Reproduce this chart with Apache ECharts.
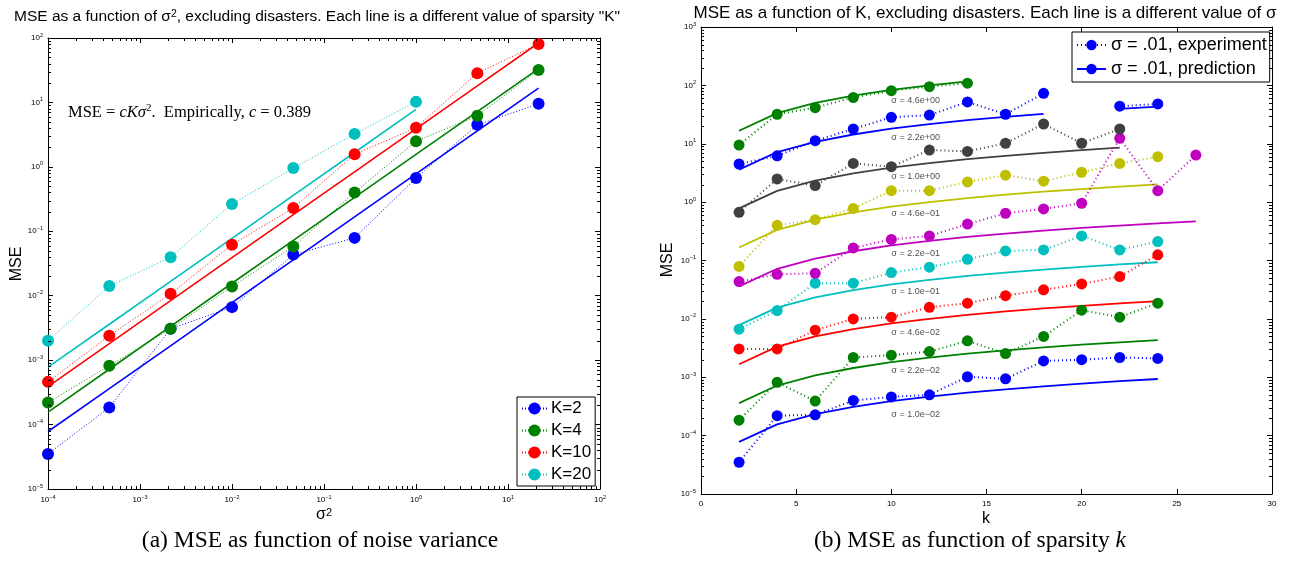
<!DOCTYPE html>
<html>
<head>
<meta charset="utf-8">
<script src="https://cdn.jsdelivr.net/npm/echarts@6/dist/echarts.min.js"></script>
<style>
html,body{margin:0;padding:0;background:#fff;}
#chart{width:1290px;height:561px;}
</style>
</head>
<body>
<div id="chart"></div>
<script>
// ---------------- DATA ----------------
const kValues = [2, 4, 6, 8, 10, 12, 14, 16, 18, 20, 22, 24, 26];
const sigmaValues = [0.01, 0.0215, 0.0464, 0.1, 0.215, 0.464, 1.0, 2.15, 4.64];
const sigmaSquared = [1e-4, 4.64e-4, 2.15e-3, 1e-2, 4.64e-2, 0.215, 1, 4.64, 21.5];
const sigmaLabels = ['σ = 1.0e−02', 'σ = 2.2e−02', 'σ = 4.6e−02', 'σ = 1.0e−01', 'σ = 2.2e−01',
                     'σ = 4.6e−01', 'σ = 1.0e+00', 'σ = 2.2e+00', 'σ = 4.6e+00'];
const sigmaLabelY = [2.27e-4, 1.29e-3, 5.75e-3, 0.029, 0.13, 0.65, 2.8, 12.6, 56];
const sigmaLabelK = 10;

// experiment MSE, one array per sigma, indexed by kValues
const exp_s0010 = [3.5e-5, 2.2e-4, 2.27e-4, 4.0e-4, 4.6e-4, 5.0e-4, 1.02e-3, 9.4e-4, 1.9e-3, 2.0e-3, 2.18e-3, 2.1e-3, null];
const exp_s0022 = [1.84e-4, 8.2e-4, 3.9e-4, 2.18e-3, 2.39e-3, 2.75e-3, 4.2e-3, 2.55e-3, 5.0e-3, 0.0141, 0.0107, 0.0186, null];
const exp_s0046 = [3.06e-3, 3.06e-3, 6.4e-3, 0.0100, 0.0107, 0.0158, 0.0186, 0.025, 0.0314, 0.0397, 0.053, 0.125, null];
const exp_s0100 = [6.65e-3, 0.0139, 0.0408, 0.0408, 0.062, 0.077, 0.105, 0.146, 0.152, 0.264, 0.152, 0.211, null];
const exp_s0215 = [0.0435, 0.058, 0.0605, 0.164, 0.23, 0.264, 0.42, 0.645, 0.766, 0.957, 12.4, 1.57, 6.4];
const exp_s0464 = [0.079, 0.40, 0.50, 0.78, 1.57, 1.57, 2.22, 2.9, 2.28, 3.25, 4.6, 6.0, null];
const exp_s1000 = [0.67, 2.5, 1.92, 4.6, 4.05, 7.8, 7.4, 10.2, 21.8, 10.2, 17.9, null, null];
const exp_s2150 = [4.5, 6.2, 11.3, 17.9, 28.4, 31, 52, 32, 73, null, 44, 48, null];
const exp_s4640 = [9.5, 32, 41.5, 62, 81, 95, 109, null, null, null, null, null, null];

// predicted MSE, one array per sigma, indexed by kValues
const pred_s0010 = [7.8e-5, 1.56e-4, 2.33e-4, 3.11e-4, 3.89e-4, 4.67e-4, 5.45e-4, 6.22e-4, 7.0e-4, 7.78e-4, 8.56e-4, 9.34e-4, null];
const pred_s0022 = [3.61e-4, 7.22e-4, 1.08e-3, 1.44e-3, 1.81e-3, 2.17e-3, 2.53e-3, 2.89e-3, 3.25e-3, 3.61e-3, 3.97e-3, 4.33e-3, null];
const pred_s0046 = [1.67e-3, 3.35e-3, 5.02e-3, 6.7e-3, 8.37e-3, 1.0e-2, 1.17e-2, 1.34e-2, 1.51e-2, 1.67e-2, 1.84e-2, 2.01e-2, null];
const pred_s0100 = [7.8e-3, 1.56e-2, 2.33e-2, 3.11e-2, 3.89e-2, 4.67e-2, 5.45e-2, 6.22e-2, 7.0e-2, 7.78e-2, 8.56e-2, 9.34e-2, null];
const pred_s0215 = [0.0361, 0.0722, 0.108, 0.144, 0.181, 0.217, 0.253, 0.289, 0.325, 0.361, 0.397, 0.433, 0.469];
const pred_s0464 = [0.167, 0.335, 0.502, 0.67, 0.837, 1.0, 1.17, 1.34, 1.51, 1.67, 1.84, 2.01, null];
const pred_s1000 = [0.78, 1.56, 2.33, 3.11, 3.89, 4.67, 5.45, 6.22, 7.0, 7.78, 8.56, null, null];
const pred_s2150 = [3.61, 7.22, 10.8, 14.4, 18.1, 21.7, 25.3, 28.9, 32.5, null, 39.7, 43.3, null];
const pred_s4640 = [16.7, 33.5, 50.2, 67, 83.7, 100, 117, null, null, null, null, null, null];

const leftK = [2, 4, 10, 20];
const leftNames = ['K=2', 'K=4', 'K=10', 'K=20'];
const rightLegendNames = ['σ = .01, experiment', 'σ = .01, prediction'];

// ---------------- STYLE ----------------
const expRows = [exp_s0010, exp_s0022, exp_s0046, exp_s0100, exp_s0215, exp_s0464, exp_s1000, exp_s2150, exp_s4640];
const predRows = [pred_s0010, pred_s0022, pred_s0046, pred_s0100, pred_s0215, pred_s0464, pred_s1000, pred_s2150, pred_s4640];
const rightColors = ['#0000ff', '#008000', '#ff0000', '#00bfbf', '#bf00bf', '#bfbf00', '#404040', '#0000ff', '#008000'];
const leftColors = ['#0000ff', '#008000', '#ff0000', '#00bfbf'];
const SANS = 'Liberation Sans, Arial, Helvetica, sans-serif';
const SERIF = 'Liberation Serif, Times New Roman, serif';

const G0 = {left: 48, top: 38, width: 552, height: 451};
const G1 = {left: 701, top: 27, width: 571, height: 467};

function logLabel(v) {
  const e = Math.round(Math.log10(v));
  return '{b|10}{s|' + (e < 0 ? '−' + (-e) : e) + '}';
}
const logRich = {
  b: {fontSize: 8, lineHeight: 12, fontFamily: SANS, color: '#000'},
  s: {fontSize: 5.5, lineHeight: 6, verticalAlign: 'top', fontFamily: SANS, color: '#000'}
};
const axisLine = {show: true, onZero: false, lineStyle: {color: '#000', width: 1}};
const tick = {show: true, inside: true, length: 5, lineStyle: {color: '#000', width: 1}};

function logAxis(grid, pos, min, max, labels) {
  return {
    type: 'log', logBase: 10, gridIndex: grid, position: pos, min: min, max: max,
    axisLine: axisLine, axisTick: tick, splitLine: {show: false},
    axisLabel: labels ? {show: true, formatter: logLabel, rich: logRich, margin: 5} : {show: false}
  };
}
function linAxis(grid, pos, labels) {
  return {
    type: 'value', gridIndex: grid, position: pos, min: 0, max: 30, interval: 5,
    axisLine: axisLine, axisTick: tick, splitLine: {show: false},
    axisLabel: labels ? {show: true, fontSize: 8, fontFamily: SANS, color: '#000', margin: 6} : {show: false}
  };
}

function minorValues(eMin, eMax) {
  const out = [];
  for (let e = eMin; e < eMax; e++) for (let m = 2; m <= 9; m++) out.push(m * Math.pow(10, e));
  return out;
}
function minorTickSeries(xi, yi, dir, vals, a0, a1) {
  return {
    type: 'custom', xAxisIndex: xi, yAxisIndex: yi, silent: true, clip: false, z: 5,
    data: vals.map(v => dir === 'x' ? [v, a0] : [a0, v]),
    renderItem: function (params, api) {
      const v = dir === 'x' ? api.value(0) : api.value(1);
      const p = dir === 'x' ? api.coord([v, a0]) : api.coord([a0, v]);
      const q = dir === 'x' ? api.coord([v, a1]) : api.coord([a1, v]);
      const L = 3;
      const st = {stroke: '#000', lineWidth: 1};
      if (dir === 'x') {
        const x = Math.round(p[0]) + 0.5;
        return {type: 'group', children: [
          {type: 'line', shape: {x1: x, y1: p[1], x2: x, y2: p[1] - L}, style: st},
          {type: 'line', shape: {x1: x, y1: q[1], x2: x, y2: q[1] + L}, style: st}
        ]};
      }
      const y = Math.round(p[1]) + 0.5;
      return {type: 'group', children: [
        {type: 'line', shape: {x1: p[0], y1: y, x2: p[0] + L, y2: y}, style: st},
        {type: 'line', shape: {x1: q[0], y1: y, x2: q[0] - L, y2: y}, style: st}
      ]};
    }
  };
}

const series = [];
// ---- left chart ----
leftK.forEach((K, j) => {
  const ki = kValues.indexOf(K);
  series.push({
    name: leftNames[j], type: 'line', xAxisIndex: 0, yAxisIndex: 0,
    data: sigmaSquared.map((s, i) => [s, expRows[i][ki]]),
    symbol: 'circle', symbolSize: 12, showSymbol: true,
    itemStyle: {color: leftColors[j]},
    lineStyle: {color: leftColors[j], width: 1, type: [1, 2]},
    connectNulls: false, z: 3
  });
  series.push({
    name: leftNames[j] + ' prediction', type: 'line', xAxisIndex: 0, yAxisIndex: 0,
    data: sigmaSquared.map((s, i) => [s, predRows[i][ki]]),
    symbol: 'none', lineStyle: {color: leftColors[j], width: 1.6}, connectNulls: false, z: 2
  });
});
// ---- right chart ----
sigmaValues.forEach((sg, i) => {
  const expName = i === 0 ? rightLegendNames[0] : sigmaLabels[i] + ', experiment';
  const predName = i === 0 ? rightLegendNames[1] : sigmaLabels[i] + ', prediction';
  series.push({
    name: expName, type: 'line', xAxisIndex: 2, yAxisIndex: 2,
    data: kValues.map((k, j) => [k, expRows[i][j]]),
    symbol: 'circle', symbolSize: 11, showSymbol: true,
    itemStyle: {color: rightColors[i]},
    lineStyle: {color: rightColors[i], width: 2, type: [1, 3]},
    connectNulls: false, z: 3
  });
  series.push({
    name: predName, type: 'line', xAxisIndex: 2, yAxisIndex: 2,
    data: kValues.map((k, j) => [k, predRows[i][j]]),
    symbol: 'none', itemStyle: {color: rightColors[i]},
    lineStyle: {color: rightColors[i], width: 1.8}, connectNulls: false, z: 2
  });
});
series.push({
  name: 'sigma labels', type: 'scatter', xAxisIndex: 2, yAxisIndex: 2, symbolSize: 0, silent: true,
  data: sigmaLabelY.map((y, i) => ({name: sigmaLabels[i], value: [sigmaLabelK, y]})),
  label: {show: true, position: 'right', distance: 0, formatter: '{b}', fontSize: 9, fontFamily: SANS, color: '#222'},
  z: 6
});
// minor ticks (log axes)
series.push(minorTickSeries(0, 0, 'x', minorValues(-4, 2), 1e-5, 1e2));
series.push(minorTickSeries(0, 0, 'y', minorValues(-5, 2), 1e-4, 1e2));
series.push(minorTickSeries(2, 2, 'y', minorValues(-5, 3), 0, 30));

const option = {
  animation: false,
  backgroundColor: '#fff',
  grid: [
    {left: G0.left, top: G0.top, width: G0.width, height: G0.height, containLabel: false},
    {left: G1.left, top: G1.top, width: G1.width, height: G1.height, containLabel: false}
  ],
  xAxis: [
    logAxis(0, 'bottom', 1e-4, 1e2, true),
    logAxis(0, 'top', 1e-4, 1e2, false),
    linAxis(1, 'bottom', true),
    linAxis(1, 'top', false)
  ],
  yAxis: [
    logAxis(0, 'left', 1e-5, 1e2, true),
    logAxis(0, 'right', 1e-5, 1e2, false),
    logAxis(1, 'left', 1e-5, 1e3, true),
    logAxis(1, 'right', 1e-5, 1e3, false)
  ],
  legend: [
    {
      data: leftNames, orient: 'vertical', left: 517, top: 397, selectedMode: false,
      backgroundColor: '#fff', borderColor: '#000', borderWidth: 1, borderRadius: 0,
      padding: [3, 4, 3, 4], itemWidth: 25, itemHeight: 15, itemGap: 5,
      textStyle: {fontSize: 17, fontFamily: SANS, color: '#000', padding: [0, 0, 0, -1]}
    },
    {
      data: rightLegendNames, orient: 'vertical', left: 1072, top: 32, selectedMode: false,
      backgroundColor: '#fff', borderColor: '#000', borderWidth: 1, borderRadius: 0,
      padding: [4, 3, 4, 4], itemWidth: 29, itemHeight: 13, itemGap: 6,
      textStyle: {fontSize: 18, fontFamily: SANS, color: '#000'}
    }
  ],
  graphic: [
    {type: 'text', x: 317, y: 17, z: 10, style: {
      text: 'MSE as a function of σ{sup|2}, excluding disasters. Each line is a different value of sparsity "K"',
      font: '15.5px ' + SANS, fill: '#000', align: 'center', verticalAlign: 'middle',
      rich: {sup: {fontSize: 10.5, lineHeight: 9, verticalAlign: 'top', fontFamily: SANS, fill: '#000'}}}},
    {type: 'text', x: 985, y: 13, z: 10, style: {
      text: 'MSE as a function of K, excluding disasters. Each line is a different value of σ',
      font: '17px ' + SANS, fill: '#000', align: 'center', verticalAlign: 'middle'}},
    {type: 'text', x: 17, y: 264, rotation: Math.PI / 2, z: 10, style: {
      text: 'MSE', font: '16px ' + SANS, fill: '#000', align: 'center', verticalAlign: 'middle'}},
    {type: 'text', x: 668, y: 260, rotation: Math.PI / 2, z: 10, style: {
      text: 'MSE', font: '16px ' + SANS, fill: '#000', align: 'center', verticalAlign: 'middle'}},
    {type: 'text', x: 324, y: 515, z: 10, style: {
      text: 'σ{sup2|2}', font: '16px ' + SANS, fill: '#000', align: 'center', verticalAlign: 'middle',
      rich: {sup2: {fontSize: 11, lineHeight: 10, verticalAlign: 'top', fontFamily: SANS, fill: '#000'}}}},
    {type: 'text', x: 986, y: 519, z: 10, style: {
      text: 'k', font: '16px ' + SANS, fill: '#000', align: 'center', verticalAlign: 'middle'}},
    {type: 'text', x: 68, y: 113, z: 10, style: {
      text: '{n|MSE = }{i|cKσ}{s|2}{n|.  Empirically, }{i|c}{n| = 0.389}',
      font: '16.5px ' + SERIF, fill: '#000', align: 'left', verticalAlign: 'middle',
      rich: {
        n: {fontSize: 16.5, lineHeight: 20, fontFamily: SERIF, fill: '#000'},
        i: {fontSize: 16.5, lineHeight: 20, fontFamily: SERIF, fontStyle: 'italic', fill: '#000'},
        s: {fontSize: 11, lineHeight: 10, verticalAlign: 'top', fontFamily: SERIF, fill: '#000'}
      }}},
    {type: 'text', x: 320, y: 541, z: 10, style: {
      text: '(a) MSE as function of noise variance', font: '23.5px ' + SERIF, fill: '#000',
      align: 'center', verticalAlign: 'middle'}},
    {type: 'text', x: 970, y: 541, z: 10, style: {
      text: '{n|(b) MSE as function of sparsity }{i|k}', font: '23.5px ' + SERIF, fill: '#000',
      align: 'center', verticalAlign: 'middle',
      rich: {
        n: {fontSize: 23.5, fontFamily: SERIF, fill: '#000'},
        i: {fontSize: 23.5, fontFamily: SERIF, fontStyle: 'italic', fill: '#000'}
      }}}
  ],
  series: series
};

const chart = echarts.init(document.getElementById('chart'), null, {renderer: 'canvas'});
chart.setOption(option);
</script>
</body>
</html>
